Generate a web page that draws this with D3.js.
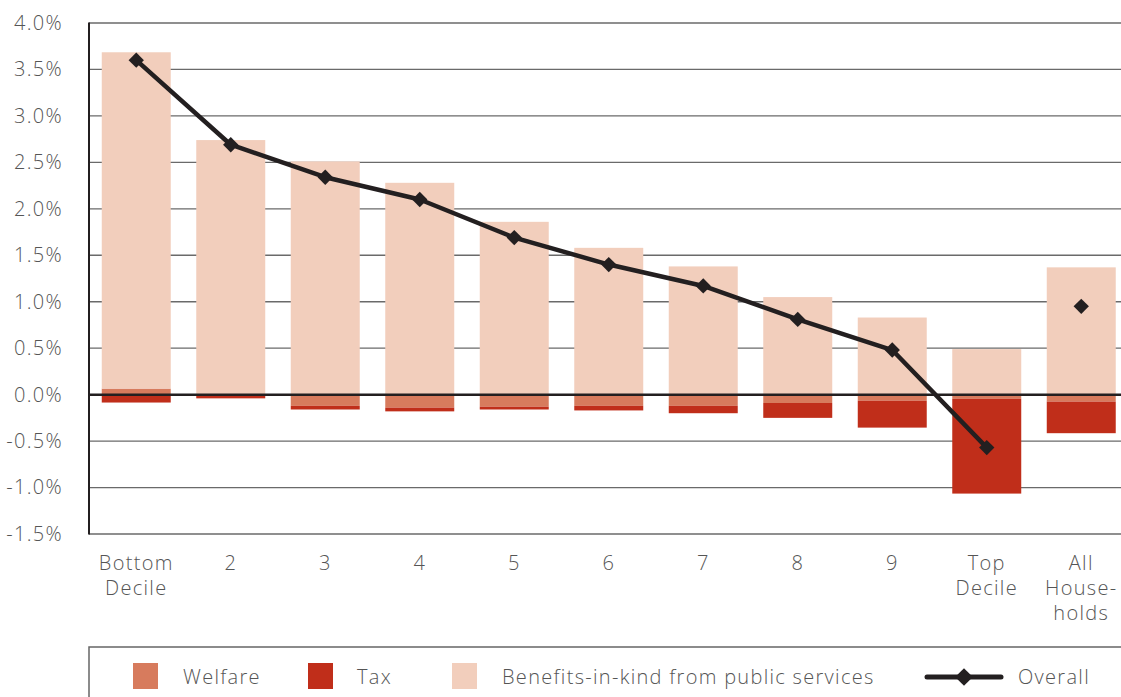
<!DOCTYPE html>
<html><head><meta charset="utf-8">
<script src="https://cdn.jsdelivr.net/npm/d3@7"></script>
<style>
body{margin:0;background:#fff;}
text{font-family:"Open Sans","DejaVu Sans",sans-serif;font-weight:300;letter-spacing:1.3px;}
</style></head>
<body>
<svg id="c" width="1121" height="697"></svg>
<script>
const categories = [["Bottom","Decile"],["2"],["3"],["4"],["5"],["6"],["7"],["8"],["9"],["Top","Decile"],["All","House-","holds"]];
const welfare  = [0.065,-0.01,-0.12,-0.14,-0.13,-0.12,-0.12,-0.09,-0.065,-0.045,-0.075];
const tax      = [-0.085,-0.03,-0.04,-0.04,-0.03,-0.05,-0.08,-0.16,-0.29,-1.02,-0.34];
const benefits = [3.62,2.74,2.51,2.28,1.86,1.58,1.38,1.05,0.83,0.49,1.37];
const overall  = [3.60,2.69,2.34,2.10,1.69,1.40,1.17,0.81,0.48,-0.57,0.95];
const yTicks   = [-1.5,-1.0,-0.5,0,0.5,1.0,1.5,2.0,2.5,3.0,3.5,4.0];
const seriesNames = ["Welfare","Tax","Benefits-in-kind from public services"];
const colors = {"Welfare":"#d77b5d","Tax":"#c02e1a","Benefits-in-kind from public services":"#f2cebc"};

const svg = d3.select("#c");
const keys = categories.map((c,i)=>"c"+i);
const x = d3.scaleBand().domain(keys).range([89,1128.5]).paddingInner(0.27).paddingOuter(0.135);
const y = d3.scaleLinear().domain([-1.5,4.0]).range([534,23]);

const rows = keys.map((k,i)=>({key:k,"Welfare":welfare[i],"Tax":tax[i],"Benefits-in-kind from public services":benefits[i]}));
const stack = d3.stack().keys(seriesNames).offset(d3.stackOffsetDiverging)(rows);

// gridlines
svg.append("g").selectAll("line").data(yTicks.filter(t=>t!==0)).join("line")
  .attr("x1",89).attr("x2",1121).attr("y1",d=>y(d)).attr("y2",d=>y(d))
  .attr("stroke","#6a6a6a").attr("stroke-width",1.3);

// bars
svg.append("g").selectAll("g").data(stack).join("g").attr("fill",d=>colors[d.key])
  .selectAll("rect").data(d=>d).join("rect")
  .attr("x",d=>x(d.data.key)).attr("width",x.bandwidth())
  .attr("y",d=>y(Math.max(d[0],d[1]))).attr("height",d=>Math.abs(y(d[0])-y(d[1])));

// zero line
svg.append("line").attr("x1",89).attr("x2",1121).attr("y1",y(0)).attr("y2",y(0))
  .attr("stroke","#231f20").attr("stroke-width",2.5);
// left axis line
svg.append("line").attr("x1",89).attr("x2",89).attr("y1",y(4.0)-0.5).attr("y2",y(-1.5)+0.5)
  .attr("stroke","#231f20").attr("stroke-width",2);

// y axis labels
const yAxis = d3.axisLeft(y).tickValues(yTicks).tickSize(0).tickPadding(26)
  .tickFormat(d=>(d<0?"-":"")+d3.format(".1f")(Math.abs(d))+"%");
const ya = svg.append("g").attr("transform","translate(89,0)").call(yAxis);
ya.select(".domain").remove();
ya.selectAll("text").attr("font-size",20).attr("fill","#555").attr("font-family",null);

// x labels
const xl = svg.append("g").selectAll("text").data(categories).join("text")
  .attr("x",(d,i)=>x(keys[i])+x.bandwidth()/2).attr("y",570)
  .attr("text-anchor","middle").attr("font-size",20).attr("fill","#555");
xl.selectAll("tspan").data(d=>d).join("tspan")
  .attr("x",function(){return this.parentNode.getAttribute("x");})
  .attr("dy",(d,i)=>i===0?0:25).text(d=>d);

// overall line (deciles only)
const lineData = overall.slice(0,10).map((v,i)=>[x(keys[i])+x.bandwidth()/2,y(v)]);
svg.append("path").attr("d",d3.line()(lineData)).attr("fill","none")
  .attr("stroke","#231f20").attr("stroke-width",4.5).attr("stroke-linejoin","round");
const diamond = d3.symbol().type(d3.symbolDiamond2).size(150);
svg.append("g").selectAll("path").data(overall).join("path")
  .attr("transform",(d,i)=>`translate(${x(keys[i])+x.bandwidth()/2},${y(d)})`)
  .attr("d",diamond).attr("fill","#231f20");

// legend
svg.append("rect").attr("x",89).attr("y",647).attr("width",1100).attr("height",100)
  .attr("fill","none").attr("stroke","#666").attr("stroke-width",1.5);
const legItems = [{n:"Welfare",sx:133,tx:183},{n:"Tax",sx:308,tx:357},{n:"Benefits-in-kind from public services",sx:452,tx:502}];
const lg = svg.append("g");
lg.selectAll("rect").data(legItems).join("rect").attr("x",d=>d.sx).attr("y",663).attr("width",25).attr("height",26)
  .attr("fill",d=>colors[d.n]);
lg.selectAll("text.l").data(legItems).join("text").attr("class","l").attr("x",d=>d.tx).attr("y",684)
  .attr("font-size",20).attr("fill","#555").text(d=>d.n);
lg.append("line").attr("x1",927).attr("x2",1001).attr("y1",677).attr("y2",677)
  .attr("stroke","#231f20").attr("stroke-width",5).attr("stroke-linecap","round");
lg.append("path").attr("transform","translate(964,677)").attr("d",d3.symbol().type(d3.symbolDiamond2).size(200)).attr("fill","#231f20");
lg.append("text").attr("x",1018).attr("y",684).attr("font-size",20).attr("fill","#555").text("Overall");
</script>
</body></html>
